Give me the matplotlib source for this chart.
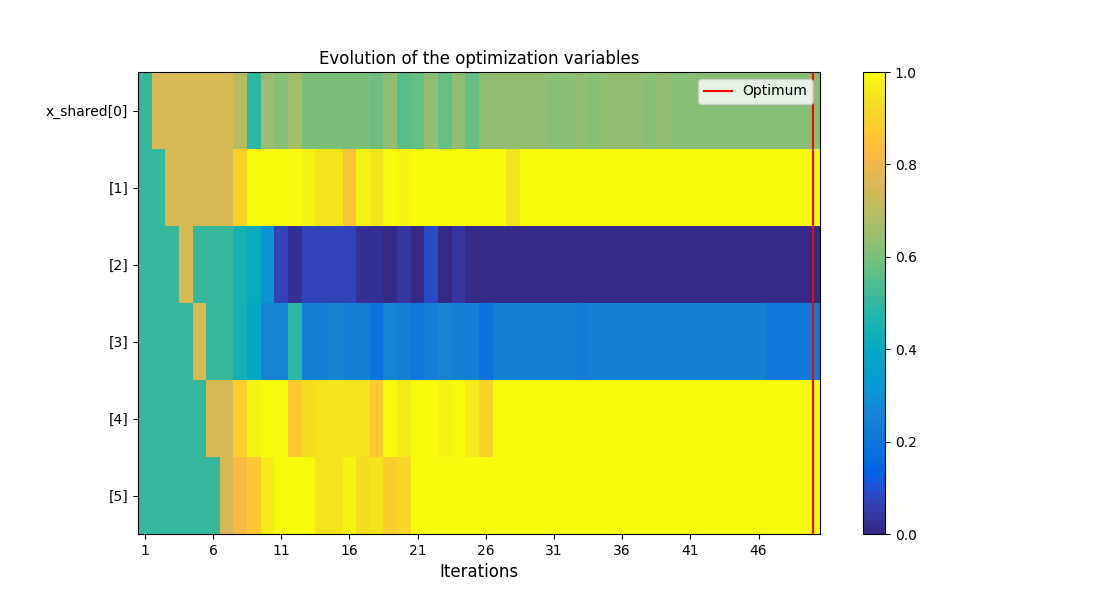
import numpy as np
import matplotlib
matplotlib.use("Agg")
import matplotlib.pyplot as plt
from matplotlib.colors import ListedColormap

# ---- data -------------------------------------------------------------
iterations = list(range(1, 51))
row_labels = ["x_shared[0]", "[1]", "[2]", "[3]", "[4]", "[5]"]
optimum_iteration = 50

x_shared_0 = [0.50, 0.75, 0.75, 0.75, 0.75, 0.75, 0.75, 0.70, 0.49, 0.65,
              0.62, 0.667, 0.603, 0.603, 0.603, 0.603, 0.603, 0.587, 0.64, 0.556,
              0.571, 0.635, 0.571, 0.635, 0.571, 0.635, 0.635, 0.635, 0.635, 0.635,
              0.619, 0.619, 0.64, 0.619, 0.635, 0.635, 0.635, 0.619, 0.635, 0.619,
              0.619, 0.619, 0.619, 0.619, 0.619, 0.619, 0.619, 0.619, 0.619, 0.619]
x_shared_1 = [0.50, 0.50, 0.75, 0.75, 0.75, 0.75, 0.75, 0.905, 1.0, 1.0,
              1.0, 1.0, 0.97, 0.95, 0.95, 0.857, 0.97, 0.95, 1.0, 0.975,
              1.0, 1.0, 1.0, 1.0, 1.0, 1.0, 1.0, 0.95, 1.0, 1.0,
              1.0, 1.0, 1.0, 1.0, 1.0, 1.0, 1.0, 1.0, 1.0, 1.0,
              1.0, 1.0, 1.0, 1.0, 1.0, 1.0, 1.0, 1.0, 1.0, 1.0]
x_shared_2 = [0.50, 0.50, 0.50, 0.75, 0.50, 0.50, 0.50, 0.44, 0.41, 0.31,
              0.065, 0.02, 0.065, 0.065, 0.065, 0.065, 0.03, 0.03, 0.005, 0.035,
              0.01, 0.08, 0.01, 0.035, 0.0, 0.0, 0.0, 0.0, 0.0, 0.0,
              0.0, 0.0, 0.0, 0.0, 0.0, 0.0, 0.0, 0.0, 0.0, 0.0,
              0.0, 0.0, 0.0, 0.0, 0.0, 0.0, 0.0, 0.0, 0.0, 0.0]
x_shared_3 = [0.50, 0.50, 0.50, 0.50, 0.75, 0.50, 0.50, 0.44, 0.39, 0.25,
              0.26, 0.49, 0.245, 0.245, 0.25, 0.245, 0.24, 0.19, 0.265, 0.235,
              0.21, 0.235, 0.25, 0.235, 0.235, 0.19, 0.245, 0.245, 0.245, 0.245,
              0.245, 0.245, 0.22, 0.245, 0.245, 0.245, 0.245, 0.245, 0.24, 0.24,
              0.24, 0.24, 0.245, 0.245, 0.245, 0.245, 0.215, 0.215, 0.215, 0.215]
x_shared_4 = [0.50, 0.50, 0.50, 0.50, 0.50, 0.75, 0.75, 0.88, 0.97, 1.0,
              1.0, 0.86, 0.935, 0.95, 0.95, 0.95, 0.95, 0.87, 1.0, 0.965,
              1.0, 1.0, 0.98, 1.0, 0.96, 0.90, 1.0, 1.0, 1.0, 1.0,
              1.0, 1.0, 1.0, 1.0, 1.0, 1.0, 1.0, 1.0, 1.0, 1.0,
              1.0, 1.0, 1.0, 1.0, 1.0, 1.0, 1.0, 1.0, 1.0, 1.0]
x_shared_5 = [0.50, 0.50, 0.50, 0.50, 0.50, 0.50, 0.75, 0.82, 0.86, 0.965,
              1.0, 1.0, 1.0, 0.95, 0.95, 0.975, 0.93, 0.95, 0.875, 0.92,
              1.0, 1.0, 1.0, 1.0, 1.0, 1.0, 1.0, 1.0, 1.0, 1.0,
              1.0, 1.0, 1.0, 1.0, 1.0, 1.0, 1.0, 1.0, 1.0, 1.0,
              1.0, 1.0, 1.0, 1.0, 1.0, 1.0, 1.0, 1.0, 1.0, 1.0]

# ---- parula colormap --------------------------------------------------
parula_rgb = [
    [0.2081, 0.1663, 0.5292], [0.2116, 0.1898, 0.5777], [0.2123, 0.2138, 0.6270],
    [0.2081, 0.2386, 0.6771], [0.1959, 0.2645, 0.7279], [0.1707, 0.2919, 0.7792],
    [0.1253, 0.3242, 0.8303], [0.0591, 0.3598, 0.8683], [0.0117, 0.3875, 0.8820],
    [0.0060, 0.4086, 0.8828], [0.0165, 0.4266, 0.8786], [0.0329, 0.4430, 0.8720],
    [0.0498, 0.4586, 0.8641], [0.0629, 0.4737, 0.8554], [0.0723, 0.4887, 0.8467],
    [0.0779, 0.5040, 0.8384], [0.0793, 0.5200, 0.8312], [0.0749, 0.5375, 0.8263],
    [0.0641, 0.5570, 0.8240], [0.0488, 0.5772, 0.8228], [0.0343, 0.5966, 0.8199],
    [0.0265, 0.6137, 0.8135], [0.0239, 0.6287, 0.8038], [0.0231, 0.6418, 0.7913],
    [0.0228, 0.6535, 0.7768], [0.0267, 0.6642, 0.7607], [0.0384, 0.6743, 0.7436],
    [0.0590, 0.6838, 0.7254], [0.0843, 0.6928, 0.7062], [0.1133, 0.7015, 0.6859],
    [0.1453, 0.7098, 0.6646], [0.1801, 0.7177, 0.6424], [0.2178, 0.7250, 0.6193],
    [0.2586, 0.7317, 0.5954], [0.3022, 0.7376, 0.5712], [0.3482, 0.7424, 0.5473],
    [0.3953, 0.7459, 0.5244], [0.4420, 0.7481, 0.5033], [0.4871, 0.7491, 0.4840],
    [0.5300, 0.7491, 0.4661], [0.5709, 0.7485, 0.4494], [0.6099, 0.7473, 0.4337],
    [0.6473, 0.7456, 0.4188], [0.6834, 0.7435, 0.4044], [0.7184, 0.7411, 0.3905],
    [0.7525, 0.7384, 0.3768], [0.7858, 0.7356, 0.3633], [0.8185, 0.7327, 0.3498],
    [0.8507, 0.7299, 0.3360], [0.8824, 0.7274, 0.3217], [0.9139, 0.7258, 0.3063],
    [0.9450, 0.7261, 0.2886], [0.9739, 0.7314, 0.2666], [0.9938, 0.7455, 0.2403],
    [0.9990, 0.7653, 0.2164], [0.9955, 0.7861, 0.1967], [0.9880, 0.8066, 0.1794],
    [0.9789, 0.8271, 0.1633], [0.9697, 0.8481, 0.1475], [0.9626, 0.8705, 0.1309],
    [0.9589, 0.8949, 0.1132], [0.9598, 0.9218, 0.0948], [0.9661, 0.9514, 0.0755],
    [0.9763, 0.9831, 0.0538],
]
parula = ListedColormap(parula_rgb, name="parula")

# ---- figure -----------------------------------------------------------
data = np.array([x_shared_0, x_shared_1, x_shared_2,
                 x_shared_3, x_shared_4, x_shared_5])

fig = plt.figure(figsize=(11, 6), dpi=100)
ax = fig.add_axes([138 / 1100, 66 / 600, 682 / 1100, 462 / 600])
cax = fig.add_axes([863 / 1100, 66 / 600, 22 / 1100, 462 / 600])

im = ax.imshow(data, cmap=parula, vmin=0.0, vmax=1.0, aspect="auto",
               interpolation="nearest")

xticks_idx = list(range(0, len(iterations), 5))
ax.set_xticks(xticks_idx)
ax.set_xticklabels([str(iterations[i]) for i in xticks_idx])
ax.set_yticks(range(len(row_labels)))
ax.set_yticklabels(row_labels)

ax.axvline(iterations.index(optimum_iteration), color="red", label="Optimum")
ax.legend(loc="upper right")

ax.set_title("Evolution of the optimization variables", fontsize=12)
ax.set_xlabel("Iterations", fontsize=12)

cb = fig.colorbar(im, cax=cax)
cb.set_ticks([0.0, 0.2, 0.4, 0.6, 0.8, 1.0])

fig.savefig("out.png", dpi=100)
